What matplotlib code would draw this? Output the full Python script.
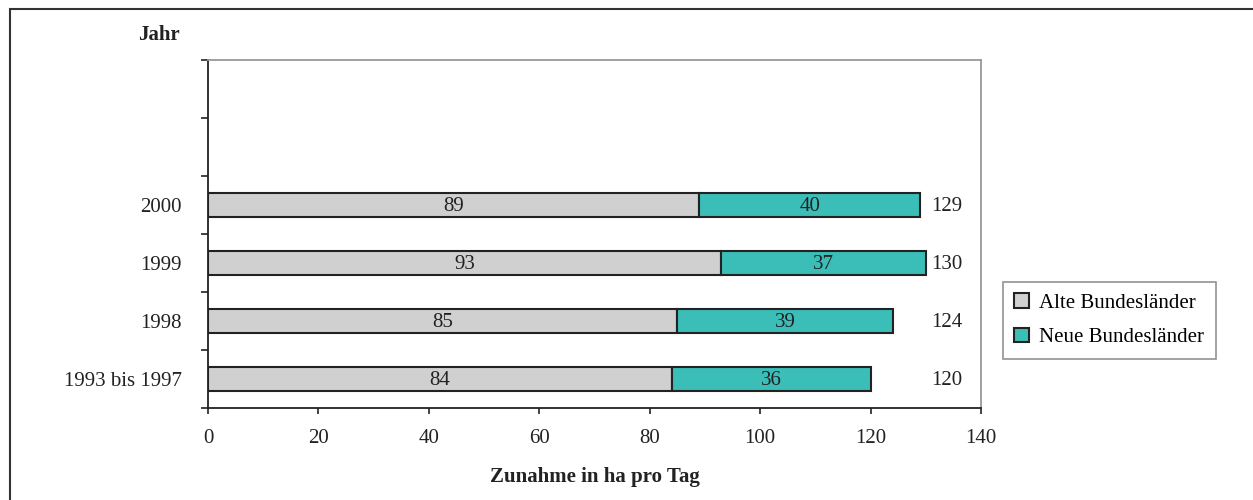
import matplotlib
matplotlib.use("Agg")
import matplotlib.pyplot as plt
import numpy as np
from matplotlib.patches import Rectangle

categories = ["1993 bis 1997", "1998", "1999", "2000"]
alte = [84, 85, 93, 89]
neue = [36, 39, 37, 40]
totals = [120, 124, 130, 129]
series_names = ["Alte Bundesländer", "Neue Bundesländer"]
xticks = [0, 20, 40, 60, 80, 100, 120, 140]

plt.rcParams['font.family'] = ['Liberation Serif', 'DejaVu Serif']
fs = 15

fig = plt.figure(figsize=(12.53, 5.0), dpi=100)
ax = fig.add_axes([208/1253, 1-408/500, (981-208)/1253, (408-60)/500])

gray = "#d0d0d0"
teal = "#3bbdb8"
edge = "#222222"
y = np.arange(len(categories))
h = 0.41
b1 = ax.barh(y, alte, height=h, color=gray, edgecolor=edge, linewidth=1.5, label=series_names[0])
b2 = ax.barh(y, neue, left=alte, height=h, color=teal, edgecolor=edge, linewidth=1.5, label=series_names[1])

for i in range(len(categories)):
    ax.text(alte[i]/2, y[i] - 0.03, str(alte[i]), ha='center', va='center', fontsize=fs, color='#222222')
    ax.text(alte[i] + neue[i]/2, y[i] - 0.03, str(neue[i]), ha='center', va='center', fontsize=fs, color='#222222')
    ax.text(131, y[i] - 0.03, str(totals[i]), ha='left', va='center', fontsize=fs, color='#222222')

ax.set_xlim(0, 140)
ax.set_ylim(-0.5, 5.5)
ax.set_xticks(xticks)
ax.set_xticklabels([str(v) for v in xticks], fontsize=fs, color='#222222')
ax.set_yticks(np.arange(-0.5, 6.0, 1.0))
ax.set_yticklabels([])
ax.set_yticks(y, minor=True)
ax.set_yticklabels(categories, minor=True, fontsize=fs, color='#222222')
ax.tick_params(axis='y', which='minor', length=0, pad=19)
ax.tick_params(axis='y', which='major', length=5, width=1.2, color='#222222', direction='out')
ax.tick_params(axis='x', which='major', length=4, width=1.2, color='#222222', direction='out', pad=11)

for s in ['left', 'bottom']:
    ax.spines[s].set_color('#222222')
    ax.spines[s].set_linewidth(1.3)
for s in ['top', 'right']:
    ax.spines[s].set_color('#999999')
    ax.spines[s].set_linewidth(1.3)

ax.set_xlabel("Zunahme in ha pro Tag", fontsize=fs, fontweight='bold', labelpad=14, color='#222222')
fig.text(159/1253, 1-35/500, "Jahr", fontsize=fs, fontweight='bold', ha='center', va='center', color='#222222')

leg = fig.legend(handles=[b1, b2], loc='upper left',
                 bbox_to_anchor=(1003/1253, 1-282/500), fontsize=fs,
                 frameon=True, fancybox=False, edgecolor='#777777',
                 handlelength=0.7, handleheight=0.7, handletextpad=0.5,
                 borderpad=0.55, labelspacing=0.7, borderaxespad=0)
leg.get_frame().set_linewidth(1.2)

frame = Rectangle((10/1253, -0.1), 1.2, 1-9/500+0.1, transform=fig.transFigure,
                  fill=False, edgecolor='#333333', linewidth=1.5)
fig.patches.append(frame)

fig.savefig("out.png", dpi=100)
